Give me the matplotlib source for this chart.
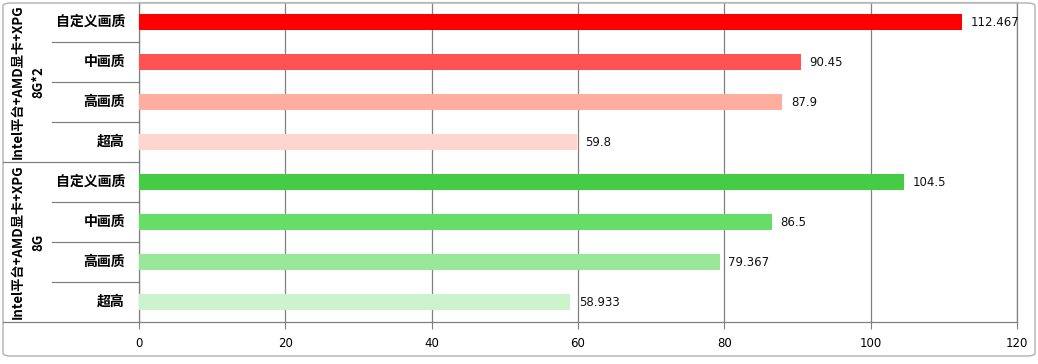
import matplotlib
matplotlib.use("Agg")
import matplotlib.pyplot as plt
from matplotlib.lines import Line2D
from matplotlib.patches import FancyBboxPatch

plt.rcParams['font.family'] = ['Noto Sans CJK SC', 'DejaVu Sans']

groups = ["Intel平台+AMD显卡+XPG\n8G*2", "Intel平台+AMD显卡+XPG\n8G"]
categories = ["自定义画质", "中画质", "高画质", "超高"]
values_g1 = [112.467, 90.45, 87.9, 59.8]
values_g2 = [104.5, 86.5, 79.367, 58.933]
value_labels_g1 = ["112.467", "90.45", "87.9", "59.8"]
value_labels_g2 = ["104.5", "86.5", "79.367", "58.933"]
colors_g1 = ["#FF0000", "#FF5252", "#FFAD9E", "#FFD6CE"]
colors_g2 = ["#44CC44", "#66DD66", "#99E899", "#CCF4CC"]
xticks = [0, 20, 40, 60, 80, 100, 120]

W, H = 1038, 364
fig = plt.figure(figsize=(W / 100, H / 100), dpi=100)
fig.patch.set_facecolor("white")

def fx(px):
    return px / W

def fy(py):
    return 1 - py / H

# rounded border
fig.patches.append(FancyBboxPatch((fx(3), fy(356)), fx(1032), fy(3) - fy(356),
                                  boxstyle="round,pad=0,rounding_size=0.008",
                                  transform=fig.transFigure, fill=False,
                                  edgecolor="#B0B0B0", linewidth=1.0))

ax = fig.add_axes([fx(139), fy(322), fx(1017) - fx(139), fy(2) - fy(322)])

values = values_g1 + values_g2
labels = value_labels_g1 + value_labels_g2
colors = colors_g1 + colors_g2
n = len(values)
ypos = list(range(n))

ax.barh(ypos, values, height=0.4, color=colors, zorder=3)
for y, v, lab in zip(ypos, values, labels):
    ax.text(v + 1.2, y, lab, va="center", ha="left", fontsize=8.5,
            family=["DejaVu Sans"], color="#111111")

ax.set_ylim(n - 0.5, -0.5)
ax.set_xlim(0, 120)
ax.set_xticks(xticks)
ax.set_xticklabels([str(t) for t in xticks], fontsize=8.5, family=["DejaVu Sans"])
ax.tick_params(axis="x", length=5, color="#808080", pad=6)
ax.set_yticks([])
ax.grid(axis="x", color="#808080", linewidth=0.9, zorder=0)
for s in ["left", "bottom", "right", "top"]:
    ax.spines[s].set_color("#808080")
    ax.spines[s].set_linewidth(0.9)
ax.spines["top"].set_color("#C8C8C8")

# category labels
for i, y in enumerate(ypos):
    cat = categories[i % 4]
    ax.text(-0.016, y, cat, transform=ax.get_yaxis_transform(), ha="right",
            va="center", fontsize=10, fontweight="bold")

# separators in the label area
row_h = (322 - 2) / n
for k in range(1, n + 1):
    yy = 2 + k * row_h
    if k % 4 == 0:
        x0 = 3
    else:
        x0 = 52
    fig.add_artist(Line2D([fx(x0), fx(139)], [fy(yy), fy(yy)],
                          transform=fig.transFigure, color="#808080", linewidth=0.9))

# group labels
for g, name in enumerate(groups):
    yc = 2 + (g * 4 + 2) * row_h
    fig.text(fx(28), fy(yc), name, rotation=90, ha="center", va="center",
             fontsize=9.5, fontweight="bold", multialignment="center",
             linespacing=1.55)

fig.savefig("out.png", dpi=100, facecolor="white")
